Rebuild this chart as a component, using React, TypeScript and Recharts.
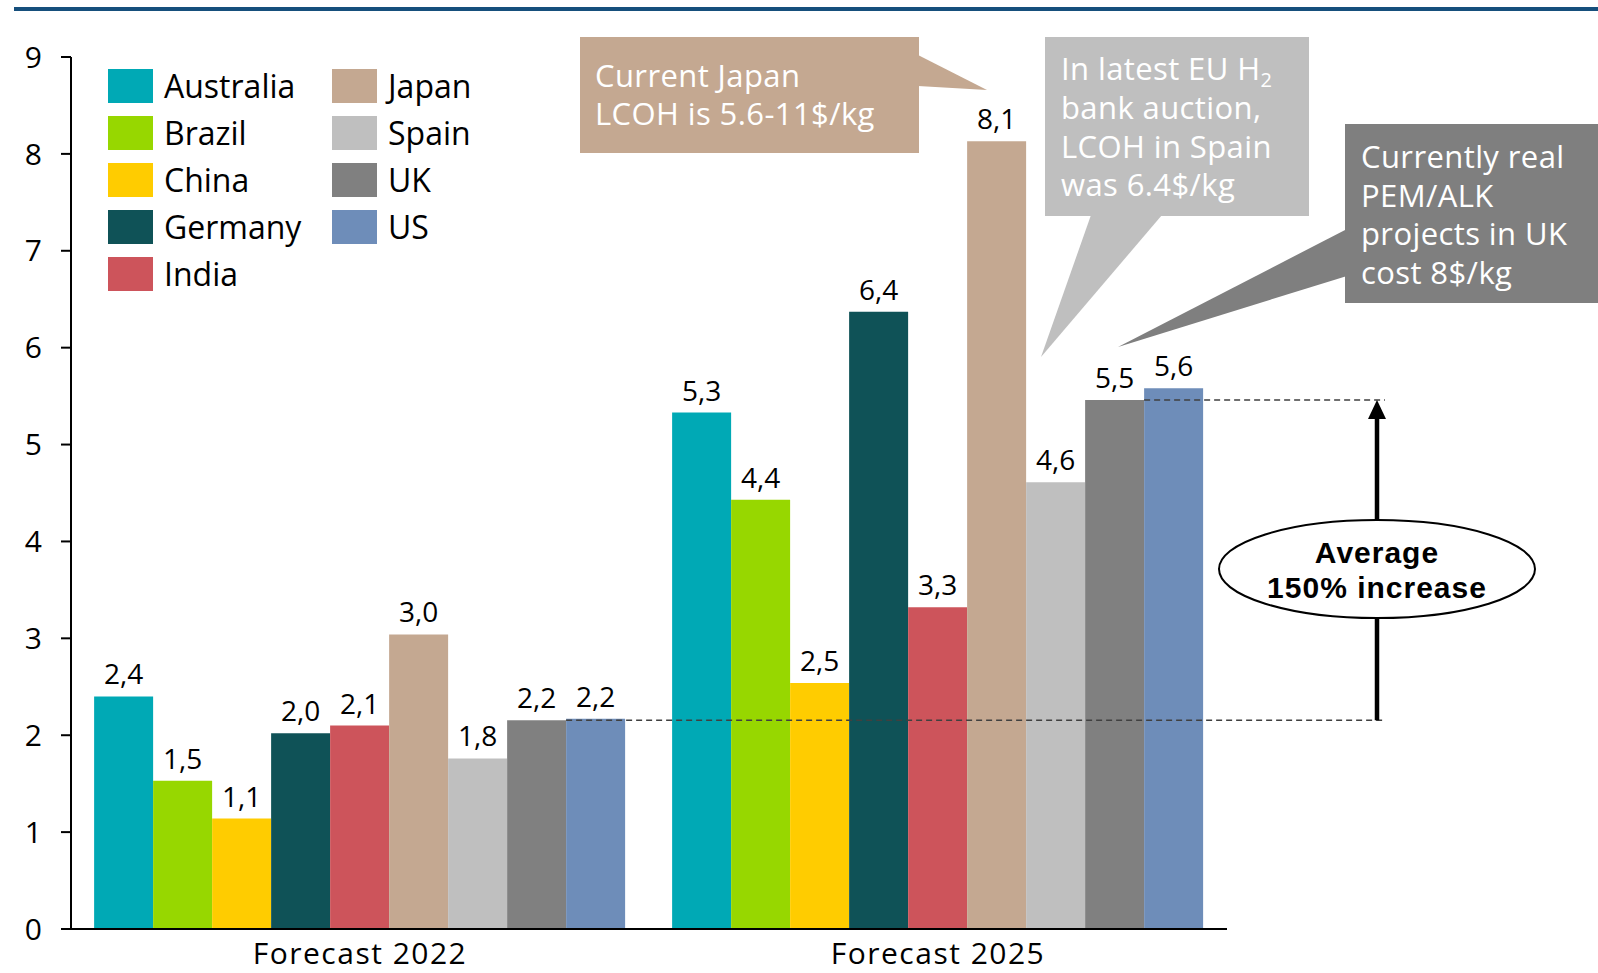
import React from 'react'
import { BarChart, Bar, XAxis, YAxis, LabelList, Legend, ReferenceArea } from 'recharts'

const categories = ['Forecast 2022', 'Forecast 2025']
const countries = ['Australia', 'Brazil', 'China', 'Germany', 'India', 'Japan', 'Spain', 'UK', 'US']
const colors = ['#00A9B5', '#97D700', '#FFCC00', '#0F5257', '#CD545B', '#C4A891', '#BFBFBF', '#808080', '#6E8DB9']
const lcoh2022 = [2.4, 1.53, 1.14, 2.02, 2.1, 3.04, 1.76, 2.155, 2.17]
const lcoh2025 = [5.33, 4.43, 2.54, 6.37, 3.32, 8.13, 4.61, 5.46, 5.58]
const yTicks = [0, 1, 2, 3, 4, 5, 6, 7, 8, 9]

// dashed reference levels follow the UK bars
const avgFrom = lcoh2022[7]
const avgTo = lcoh2025[7]

const series = [lcoh2022, lcoh2025]
const data = categories.map((name, ci) => {
  const row: Record<string, string | number> = { name }
  countries.forEach((c, i) => {
    row[c] = series[ci][i]
  })
  return row
})

const FONT = '"Open Sans", sans-serif'
const fmt = (v: any) => Number(v).toFixed(1).replace('.', ',')

const renderLegend = (props: any) => {
  const { payload = [] } = props
  return (
    <div style={{ position: 'relative', width: 430, height: 235 }}>
      {payload.map((e: any, i: number) => (
        <div
          key={e.value}
          style={{
            position: 'absolute',
            left: Math.floor(i / 5) * 224,
            top: (i % 5) * 47,
            height: 34,
            display: 'flex',
            alignItems: 'center',
          }}
        >
          <div style={{ width: 45, height: 34, background: e.color }} />
          <span style={{ marginLeft: 11, fontSize: 32, lineHeight: '34px', color: '#000', whiteSpace: 'nowrap' }}>
            {e.value}
          </span>
        </div>
      ))}
    </div>
  )
}

const AvgAnnotation = (p: any) => {
  const { x, y, width, height } = p
  const right = x + width
  const band = width / categories.length
  const gap = band * 0.04
  const barW = Math.floor((band - 2 * gap) / countries.length)
  const usIdx = countries.indexOf('US')
  const lowStart = x + gap + usIdx * barW
  const highStart = x + band + gap + usIdx * barW
  const lineEnd = right + 158
  const ax = right + 150
  const top = y
  const bottom = y + height
  const cy = (top + bottom) / 2 + 9
  const boldFont = '"Liberation Sans", sans-serif'
  return (
    <g>
      <line x1={lowStart} x2={lineEnd} y1={bottom} y2={bottom} stroke="#404040" strokeWidth={1.5} strokeDasharray="6 4" />
      <line x1={highStart} x2={lineEnd} y1={top} y2={top} stroke="#404040" strokeWidth={1.5} strokeDasharray="6 4" />
      <line x1={ax} x2={ax} y1={bottom} y2={top + 17} stroke="#000" strokeWidth={4.5} />
      <polygon points={`${ax},${top} ${ax - 9},${top + 19} ${ax + 9},${top + 19}`} fill="#000" />
      <ellipse cx={ax} cy={cy} rx={158} ry={49} fill="#fff" stroke="#000" strokeWidth={2} />
      <text x={ax} y={cy - 6} textAnchor="middle" fontWeight="bold" fontSize={30} letterSpacing={1} fill="#000" fontFamily={boldFont}>
        Average
      </text>
      <text x={ax} y={cy + 29} textAnchor="middle" fontWeight="bold" fontSize={30} letterSpacing={1} fill="#000" fontFamily={boldFont}>
        150% increase
      </text>
    </g>
  )
}

const Callouts = () => (
  <svg width={1598} height={973} style={{ position: 'absolute', left: 0, top: 0, pointerEvents: 'none' }}>
    <line x1={14} x2={1598} y1={9} y2={9} stroke="#164F7C" strokeWidth={4} />
    <g fontFamily={FONT} fontSize={31} fill="#fff" letterSpacing={0.4}>
      <rect x={580} y={37} width={339} height={116} fill="#C4A891" />
      <polygon points="918,55 987,90 918,86" fill="#C4A891" />
      <text x={595} y={87}>Current Japan</text>
      <text x={595} y={125}>LCOH is 5.6-11$/kg</text>

      <rect x={1045} y={37} width={264} height={179} fill="#BFBFBF" />
      <polygon points="1091,215 1162,215 1041,357" fill="#BFBFBF" />
      <text x={1061} y={80}>
        In latest EU H<tspan fontSize={20} dy={7}>2</tspan>
      </text>
      <text x={1061} y={119}>bank auction,</text>
      <text x={1061} y={158}>LCOH in Spain</text>
      <text x={1061} y={196}>was 6.4$/kg</text>

      <rect x={1345} y={124} width={253} height={179} fill="#7F7F7F" />
      <polygon points="1347,229 1347,276 1118,347" fill="#7F7F7F" />
      <text x={1361} y={168}>Currently real</text>
      <text x={1361} y={207}>PEM/ALK</text>
      <text x={1361} y={245}>projects in UK</text>
      <text x={1361} y={284}>cost 8$/kg</text>
    </g>
  </svg>
)

export default function App() {
  return (
    <div style={{ position: 'absolute', left: 0, top: 0, width: 1598, height: 973, background: '#fff', fontFamily: FONT }}>
      <BarChart
        width={1598}
        height={973}
        data={data}
        margin={{ top: 57, right: 371, bottom: 0, left: 10 }}
        barCategoryGap="4%"
        barGap={0}
      >
        <XAxis
          dataKey="name"
          height={44}
          tickSize={0}
          tickMargin={14}
          axisLine={{ stroke: '#000', strokeWidth: 2 }}
          tickLine={false}
          tick={{ fontSize: 30, fill: '#000', fontFamily: FONT, letterSpacing: 1.5 }}
        />
        <YAxis
          width={61}
          domain={[0, 9]}
          ticks={yTicks}
          interval={0}
          tickSize={10}
          tickMargin={19}
          axisLine={{ stroke: '#000', strokeWidth: 2 }}
          tickLine={{ stroke: '#000', strokeWidth: 2 }}
          tick={{ fontSize: 30, fill: '#000', fontFamily: FONT }}
        />
        <Legend
          layout="vertical"
          align="center"
          verticalAlign="middle"
          content={renderLegend}
          wrapperStyle={{ left: 108, top: 69, width: 430, height: 235 }}
        />
        {countries.map((c, i) => (
          <Bar key={c} dataKey={c} fill={colors[i]} isAnimationActive={false}>
            <LabelList dataKey={c} position="top" offset={12} formatter={fmt} fontSize={28} fill="#000" fontFamily={FONT} />
          </Bar>
        ))}
        <ReferenceArea
          y1={avgFrom}
          y2={avgTo}
          ifOverflow="visible"
          zIndex={1500}
          shape={(p: any) => <AvgAnnotation {...p} />}
        />
      </BarChart>
      <Callouts />
    </div>
  )
}
